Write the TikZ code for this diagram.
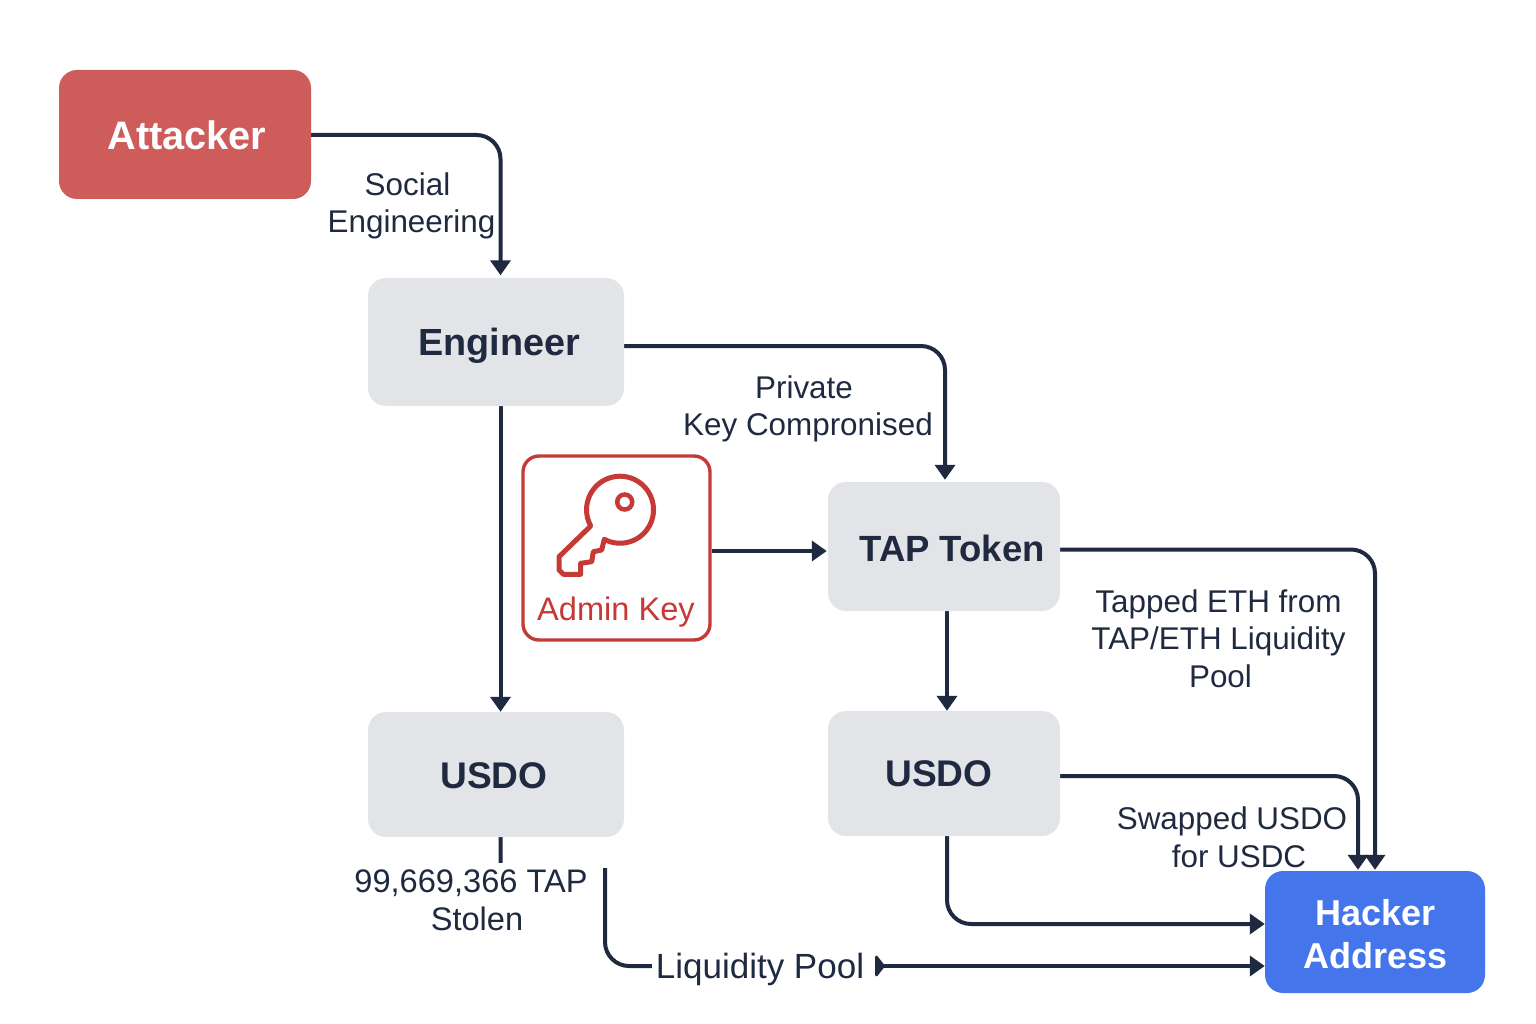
\documentclass[tikz,border=0pt]{standalone}
\usepackage{fontspec}
\setmainfont{Liberation Sans}
\usetikzlibrary{arrows.meta,backgrounds}
\definecolor{linec}{HTML}{1F2A40}
\definecolor{greyb}{HTML}{E2E4E8}
\definecolor{redb}{HTML}{CE5C5A}
\definecolor{blueb}{HTML}{4475EA}
\definecolor{keyc}{HTML}{C53A36}
\newcommand{\boxfont}[1]{\fontsize{#1}{43}\selectfont\bfseries}
\newcommand{\settext}[2]{\raisebox{#1}[0pt][0pt]{#2}}
\tikzset{
  x=1pt,y=-1pt,
  boxn/.style={rectangle,rounded corners=18pt,inner sep=0pt,align=center},
  greyn/.style={boxn,fill=greyb,text=linec},
  lab/.style={inner sep=0pt,align=center,text=linec,font=\fontsize{31.4}{37.6}\selectfont},
  conn/.style={draw=linec,line width=4pt,rounded corners=24pt,-{Triangle[length=15pt,width=20pt]}},
  plainconn/.style={draw=linec,line width=4pt},
  keyline/.style={draw=keyc,line width=5pt,line join=round}
}
\begin{document}
\begin{tikzpicture}
\useasboundingbox (0,0) rectangle (1536,1024);
% boxes
\node[boxn,fill=redb,text=white,font=\boxfont{39.7},minimum width=252pt,minimum height=129pt] (attacker) at (185,134.5) {\settext{-15.5pt}{\hspace*{4pt}Attacker}};
\node[greyn,font=\boxfont{37.8},minimum width=256pt,minimum height=128pt] (engineer) at (496,342) {\settext{-13.5pt}{\hspace*{6pt}Engineer}};
\node[greyn,font=\boxfont{36.5},minimum width=232pt,minimum height=129pt] (tap) at (944,546.5) {\settext{-14.7pt}{\hspace*{16pt}TAP Token}};
\node[greyn,font=\boxfont{37.1},minimum width=256pt,minimum height=125pt] (usdoa) at (496,774.5) {\settext{-13.5pt}{USDO\hspace*{4pt}}};
\node[greyn,font=\boxfont{37.1},minimum width=232pt,minimum height=125pt] (usdob) at (944,773.5) {\settext{-13pt}{USDO\hspace*{10pt}}};
\node[boxn,fill=blueb,text=white,font=\boxfont{36},minimum width=220pt,minimum height=122pt] (hacker) at (1375,932) {\settext{-8pt}{\parbox{200pt}{\centering \hspace*{1pt}Hacker\\\hspace*{1pt}Address}}};
\node[rectangle,rounded corners=16pt,draw=keyc,line width=3.4pt,fill=white,minimum width=187pt,minimum height=184pt] (adminkey) at (616.5,548) {};
% key icon
\draw[keyline] (604.3,539.3) arc[start angle=242,delta angle=327,radius=33.5pt] -- (559,556.7) -- (559,570) -- (563.5,574.3) -- (580.7,574.3) -- (580.7,563.3) -- (591.7,561.7) -- (593.3,551.7) -- (601.7,550) -- cycle;
\draw[draw=keyc,line width=4.5pt] (624.7,502) circle[radius=7.5pt];
\node[lab,text=keyc,font=\fontsize{32.6}{37.6}\selectfont] (adminlab) at (616,612) {Admin Key};
% labels
\node[lab] (lsocial) at (411.5,206) {Social\hspace*{8pt}\\Engineering};
\node[lab] (lprivate) at (808,409) {Private\hspace*{8pt}\\Key Compronised};
\node[lab] (ltapped) at (1218.5,638.5) {Tapped ETH from\\TAP/ETH Liquidity\\\hspace*{4pt}Pool};
\node[lab] (lswap) at (1235,837.5) {Swapped USDO\hspace*{6pt}\\\hspace*{8pt}for USDC};
\node[lab,fill=white,font=\fontsize{32.6}{37.6}\selectfont,minimum width=258pt,minimum height=75pt] (lstolen) at (474,900.5) {99,669,366 TAP\hspace*{6pt}\\\hspace*{6pt}Stolen};
\node[lab,font=\fontsize{35}{37.6}\selectfont,minimum width=220pt,minimum height=40pt] (lpool) at (762,969) {Liquidity Pool\hspace*{4pt}};
% connectors
\coordinate (turna) at (605,870);
\coordinate (keyout) at ([yshift=-3pt]adminkey.east);
\coordinate (poolend) at ([xshift=3pt,yshift=3pt]lpool.east);
\begin{scope}[on background layer]
\draw[conn] ([yshift=-0.5pt]attacker.east) -| ([xshift=4.5pt,yshift=2.5pt]engineer.north);
\draw[conn] ([yshift=-4pt]engineer.east) -| ([xshift=1pt,yshift=2pt]tap.north);
\draw[conn] ([xshift=4.5pt]engineer.south) -- ([xshift=4.5pt]usdoa.north);
\draw[conn] (keyout) -- ([xshift=-1pt]tap.west |- keyout);
\draw[conn] ([xshift=3pt]tap.south) -- ([xshift=3pt]usdob.north);
\draw[conn] ([yshift=-3pt]tap.east) -| ([yshift=1pt]hacker.north);
\draw[conn] ([yshift=-2.5pt]usdob.east) -| ([xshift=-17pt,yshift=1pt]hacker.north);
\draw[conn] ([xshift=3pt]usdob.south) |- ([yshift=8pt]hacker.west);
\draw[conn,{Triangle[length=10pt,width=25pt,reversed,round]}-{Triangle[length=15pt,width=20pt]}] (poolend) -- (poolend -| hacker.west);
\draw[plainconn] ([xshift=4.5pt]usdoa.south) -- ([xshift=4.5pt]usdoa.south |- turna) -- (turna) [rounded corners=24pt] -- (turna |- poolend) -- ([yshift=3pt]lpool.west);
\end{scope}
\end{tikzpicture}
\end{document}
